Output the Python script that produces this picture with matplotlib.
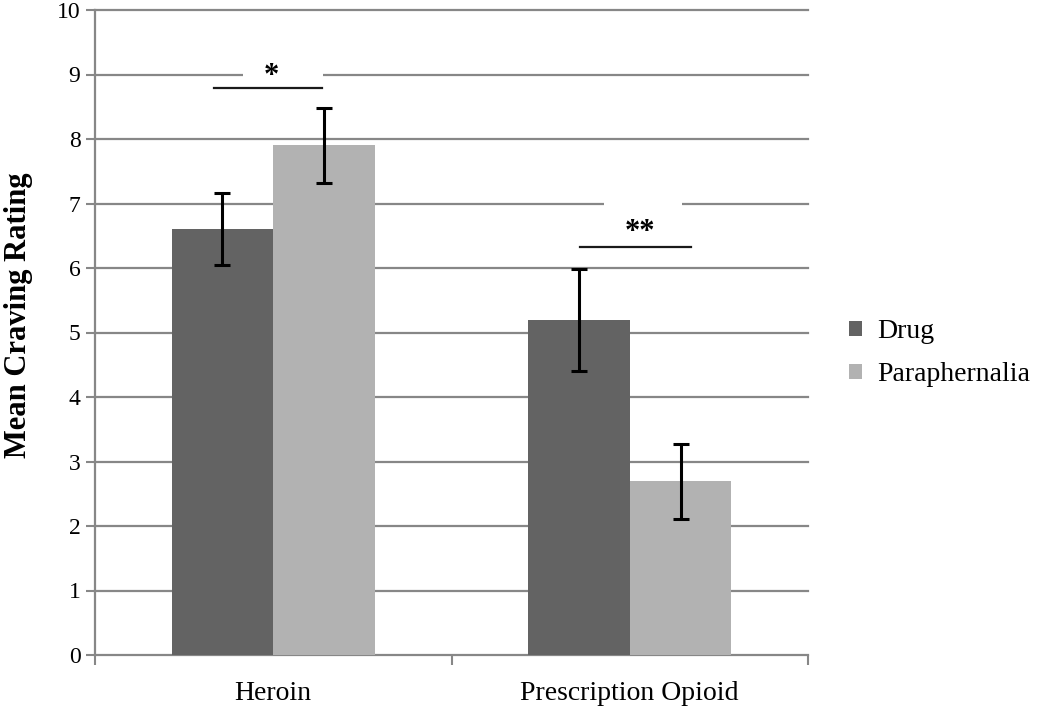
import matplotlib
matplotlib.use("Agg")
import matplotlib.pyplot as plt
from matplotlib.patches import Patch, Rectangle
import numpy as np

plt.rcParams['font.family'] = ['Liberation Serif', 'DejaVu Serif']

categories = ["Heroin", "Prescription Opioid"]
series_names = ["Drug", "Paraphernalia"]
drug_means = [6.60, 5.19]
para_means = [7.90, 2.69]
drug_err = [0.56, 0.79]
para_err = [0.58, 0.58]
yticks = list(range(0, 11))
sig_labels = ["*", "**"]
sig_line_y = [8.79, 6.33]

colors = ["#636363", "#b2b2b2"]
grid_color = "#878787"

fig = plt.figure(figsize=(10.5, 7.08), dpi=100)
ax = fig.add_axes([95/1050, (708-655)/708, (808-95)/1050, (655-10)/708])

x = np.arange(len(categories))
w = 0.285
ax.bar(x - w/2, drug_means, width=w, color=colors[0], zorder=3)
ax.bar(x + w/2, para_means, width=w, color=colors[1], zorder=3)
ax.errorbar(x - w/2, drug_means, yerr=drug_err, fmt='none', ecolor='black',
            elinewidth=2.2, capsize=6, capthick=2.2, zorder=4)
ax.errorbar(x + w/2, para_means, yerr=para_err, fmt='none', ecolor='black',
            elinewidth=2.2, capsize=6, capthick=2.2, zorder=4)

ax.set_xlim(-0.5, 1.5)
ax.set_ylim(0, 10)
ax.set_yticks(yticks)
ax.set_yticklabels([str(t) for t in yticks], fontsize=17)
for t in yticks[1:]:
    ax.axhline(t, color=grid_color, lw=1.6, zorder=1, clip_on=False)

ax.set_xticks(x)
ax.set_xticklabels(categories, fontsize=20)
ax.set_xticks([-0.5, 0.5, 1.5], minor=True)
ax.tick_params(axis='x', which='major', length=0, pad=19)
ax.tick_params(axis='x', which='minor', length=7, width=1.5, color=grid_color, direction='out')
ax.tick_params(axis='y', length=6.5, width=1.5, color=grid_color, direction='out', pad=4)

for s in ['top', 'right']:
    ax.spines[s].set_visible(False)
for s in ['left', 'bottom']:
    ax.spines[s].set_color(grid_color)
    ax.spines[s].set_linewidth(1.6)

ax.set_ylabel("Mean Craving Rating", fontsize=22, fontweight='bold')
ax.yaxis.set_label_coords(-0.087, 0.526)

# significance annotations
gaps = [(-0.085, 0.140, 9), (0.928, 1.147, 7)]
brackets = [(-0.166, 0.137), (0.860, 1.172)]
text_x = [-0.006, 1.029]
text_y = [8.86, 6.44]
for (g0, g1, gy), (b0, b1), lab, ly, tx, ty in zip(gaps, brackets, sig_labels, sig_line_y, text_x, text_y):
    ax.add_patch(Rectangle((g0, gy - 0.1), g1 - g0, 0.2, facecolor='white',
                           edgecolor='none', zorder=2))
    ax.plot([b0, b1], [ly, ly], color='#1a1a1a', lw=1.6, zorder=5)
    ax.text(tx, ty, lab, ha='center', va='baseline', fontsize=22, fontweight='bold', zorder=6)

handles = [Patch(facecolor=c, edgecolor='none') for c in colors]
fig.legend(handles, series_names, loc='center left', bbox_to_anchor=(849/1050, 0.501),
           frameon=False, fontsize=20, handlelength=0.45, handleheight=0.45,
           handletextpad=0.55, labelspacing=0.65, borderpad=0, borderaxespad=0)

fig.savefig("out.png", dpi=100)
